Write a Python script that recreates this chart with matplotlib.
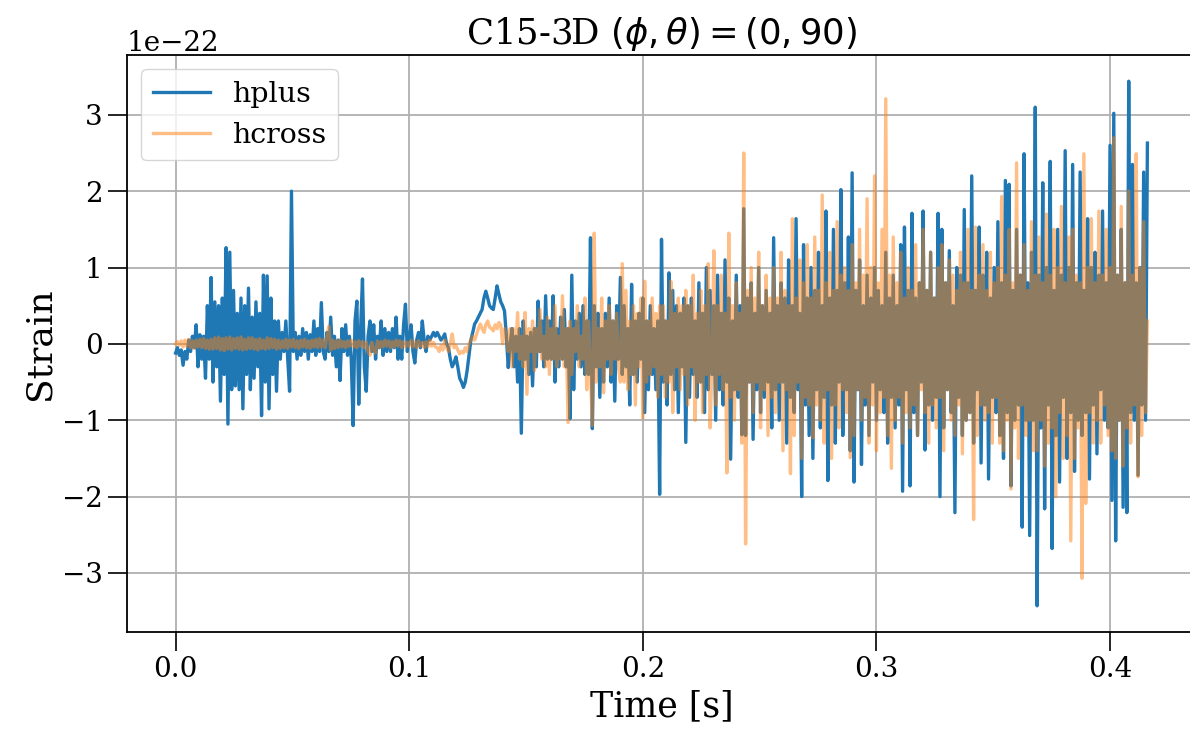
import numpy as np
import matplotlib
matplotlib.use("Agg")
import matplotlib.pyplot as plt

# sample spacing of the plotted waveform, seconds
dt = 0.0008

# strain values in units of 1e-22 (one row = 0.016 s)
hplus = [
    -0.12, -0.05, -0.15, -0.08, -0.28, -0.10, -0.20, 0.05, -0.10, 0.10, -0.05, 0.25, -0.30, 0.12, -0.20, 0.10, -0.45, 0.50, -0.20, 0.87,
    -0.50, 0.55, -0.30, 0.50, -0.75, 0.60, -0.40, 1.26, -1.05, 1.20, -0.60, 0.70, -0.55, 0.40, -0.60, 0.60, -0.85, 0.50, -0.40, 0.73,
    -0.60, 0.35, -0.45, 0.55, -0.30, 0.40, -0.94, 0.90, -0.50, 0.89, -0.85, 0.60, -0.40, 0.30, -0.62, 0.30, -0.20, 0.15, -0.10, 0.30,
    -0.20, -0.62, 2.00, -0.10, 0.15, -0.20, 0.10, -0.15, 0.20, -0.10, 0.15, -0.20, 0.12, -0.10, 0.30, -0.15, 0.20, -0.10, 0.54, -0.10,
    -0.20, 0.15, -0.10, 0.35, -0.15, 0.10, -0.30, 0.05, -0.48, 0.20, -0.10, 0.25, -0.15, 0.10, -0.20, -1.07, 0.30, 0.56, -0.79, 0.20,
    0.85, -0.30, -0.62, 0.10, 0.30, -0.10, 0.25, -0.20, 0.10, -0.05, 0.30, -0.15, 0.20, -0.10, 0.15, -0.10, 0.20, -0.05, 0.35, -0.20,
    0.10, -0.20, 0.25, 0.52, -0.10, 0.10, 0.25, -0.10, -0.25, 0.05, 0.15, -0.05, 0.30, 0.05, -0.10, 0.10, 0.05, 0.10, 0.15, 0.10,
    0.15, 0.10, 0.05, 0.08, 0.13, 0.00, -0.05, -0.20, -0.30, -0.25, -0.17, -0.30, -0.45, -0.50, -0.57, -0.50, -0.35, -0.15, 0.05, 0.15,
    0.26, 0.30, 0.35, 0.40, 0.45, 0.60, 0.69, 0.60, 0.50, 0.47, 0.45, 0.60, 0.76, 0.65, 0.55, 0.50, 0.43, 0.10, -0.31, 0.00,
    0.20, -0.30, 0.10, -0.50, 0.20, -1.17, 0.30, -0.20, 0.10, -0.40, 0.15, -0.55, 0.20, -0.30, 0.56, -0.10, 0.30, -0.30, 0.63, -0.20,
    0.30, -0.20, 0.63, -0.50, 0.20, -0.30, 0.35, -0.20, 0.45, -0.30, 0.20, -0.98, 0.90, -0.60, 0.30, -0.20, 0.40, -0.30, 0.50, -0.40,
    0.30, -0.40, 1.39, -1.11, 0.50, -0.30, 0.40, -0.70, 0.20, -0.50, 0.40, -0.30, 0.60, -0.50, 0.30, -0.75, 0.50, -0.20, 0.87, -0.40,
    0.50, -0.30, 0.20, -0.80, 0.78, -0.40, 0.30, -0.50, 0.40, -0.20, 0.60, -0.90, 0.30, -0.60, 0.50, -0.40, 0.20, -0.60, 0.30, -1.97,
    1.37, -0.50, 0.30, -0.80, 0.93, -0.40, 0.70, -0.60, 0.50, -0.90, 0.40, -0.30, 0.60, -1.29, 0.50, -0.70, 0.60, -0.40, 0.30, -0.70,
    0.80, -0.50, 0.40, -0.90, 1.00, -0.60, 0.70, -0.40, 0.50, -1.00, 0.90, -0.60, 0.40, -0.80, 1.10, -0.50, 0.60, -1.51, 0.30, -0.60,
    0.90, -0.70, 0.50, -1.19, 1.77, -1.20, 0.60, -0.50, 0.80, -1.25, 0.40, -0.60, 1.00, -0.90, 0.50, -0.70, 0.70, -0.50, 0.40, -1.10,
    1.39, -0.60, 0.50, -1.00, 0.80, -0.50, 0.60, -1.30, 1.10, -0.70, 0.50, -0.90, 1.64, -0.60, 0.40, -2.00, 1.30, -0.80, 0.60, -1.20,
    1.00, -1.50, 0.70, -0.60, 1.20, -1.10, 0.50, -0.70, 1.74, -1.79, 0.60, -0.80, 1.50, -1.30, 0.70, -0.50, 2.02, -1.20, 0.80, -0.60,
    1.40, -1.40, 2.24, -1.81, 0.70, -0.60, 1.10, -1.58, 0.50, -0.80, 0.90, -1.20, 0.60, -0.50, 1.00, -1.00, 0.70, -0.60, 0.50, -0.90,
    1.20, -1.30, 0.60, -0.70, 0.90, -1.10, 0.50, -0.80, 1.30, -1.93, 1.53, -0.60, 0.70, -1.86, 1.71, -0.90, 0.60, -1.20, 0.80, -0.50,
    1.74, -1.39, 0.70, -0.80, 1.20, -1.00, 0.60, -0.70, 1.71, -2.00, 1.50, -1.10, 0.80, -0.60, 1.22, -0.90, 0.50, -2.21, 1.00, -0.70,
    0.90, -1.20, 1.76, -1.00, 0.80, -0.90, 2.20, -1.30, 0.70, -0.60, 1.53, -1.56, 0.90, -0.80, 1.20, -1.77, 0.60, -0.70, 1.00, -0.90,
    1.60, -1.20, 0.80, -1.50, 2.14, -0.90, 2.09, -1.86, 0.70, -1.00, 1.50, -0.80, 0.90, -2.40, 2.49, -1.00, 0.80, -2.51, 1.20, -1.00,
    3.10, -3.43, 0.90, -1.10, 2.11, -2.16, 1.00, -0.80, 2.39, -2.68, 0.70, -1.20, 1.50, -1.81, 0.90, -0.70, 2.53, -1.50, 1.00, -0.90,
    2.35, -1.67, 0.80, -1.00, 2.25, -1.20, 0.70, -0.90, 1.64, -1.77, 1.00, -0.80, 1.20, -1.44, 0.90, -0.60, 1.74, -1.00, 0.80, -1.10,
    2.60, -2.05, 3.02, -2.58, 0.90, -1.00, 1.50, -2.14, 0.80, -2.21, 3.44, -0.90, 2.35, -1.00, 0.80, -1.72, 1.00, -0.80, 2.25, -1.00,
    2.63,
]

hcross = [
    0.00, 0.03, -0.02, 0.04, -0.04, 0.05, -0.03, 0.06, -0.05, 0.04, -0.06, 0.05, -0.04, 0.06, -0.05, 0.07, -0.06, 0.05, -0.07, 0.06,
    -0.07, 0.08, -0.06, 0.09, -0.08, 0.07, -0.09, 0.08, -0.07, 0.09, -0.08, 0.07, -0.06, 0.08, -0.07, 0.09, -0.08, 0.06, -0.07, 0.08,
    -0.06, 0.08, -0.07, 0.06, -0.08, 0.07, -0.06, 0.05, -0.07, 0.08, -0.06, 0.07, -0.05, 0.06, -0.07, 0.05, -0.06, 0.04, -0.05, 0.06,
    -0.06, 0.05, -0.04, 0.06, -0.05, 0.04, -0.06, 0.05, -0.04, 0.06, -0.05, 0.04, -0.06, 0.05, -0.04, 0.06, -0.05, 0.07, -0.04, 0.05,
    -0.05, 0.10, 0.23, -0.08, 0.05, -0.06, 0.04, -0.05, 0.05, -0.04, 0.03, -0.05, 0.04, -0.03, 0.05, -0.04, 0.03, -0.05, 0.04, -0.03,
    0.03, -0.05, 0.02, -0.10, -0.15, 0.02, -0.08, -0.12, 0.04, -0.05, 0.03, -0.04, 0.05, -0.03, 0.04, -0.05, 0.03, -0.04, 0.05, -0.03,
    0.04, -0.05, 0.03, -0.04, 0.02, -0.03, 0.05, -0.04, 0.03, -0.05, 0.04, -0.03, 0.02, -0.05, 0.03, -0.04, 0.05, -0.03, 0.02, -0.04,
    -0.05, -0.10, -0.02, -0.08, 0.05, -0.05, -0.10, 0.00, 0.13, -0.05, -0.02, -0.08, -0.13, -0.10, -0.12, -0.05, -0.10, 0.00, 0.05, 0.10,
    0.05, 0.12, 0.20, 0.26, 0.20, 0.15, 0.25, 0.30, 0.22, 0.20, 0.17, 0.25, 0.20, 0.28, 0.25, 0.00, 0.20, 0.10, -0.10, 0.20,
    -0.30, 0.20, -0.10, 0.41, -0.20, 0.10, -0.30, 0.41, -0.66, 0.20, -0.10, 0.30, -0.35, 0.20, -0.10, 0.45, -0.20, 0.10, -0.30, 0.35,
    -0.40, 0.20, -0.20, 0.50, -0.30, 0.10, -0.20, 0.63, -0.30, 0.20, -1.03, 0.30, -0.40, 0.20, -0.10, 0.50, -0.30, 0.10, -0.20, 0.60,
    -0.60, 0.30, -0.40, -1.07, 1.45, -0.50, 0.20, -0.30, 0.60, -0.64, 0.30, -0.20, 0.50, -0.40, 0.30, -0.20, 0.40, -0.30, -0.50, 1.05,
    -0.50, 0.70, -0.60, 0.30, -0.40, 0.50, -0.80, 0.40, -0.30, 0.60, -0.97, 0.82, -0.50, 0.30, -0.40, 0.60, -0.30, 0.40, -0.70, 0.50,
    -0.40, 0.50, -0.70, 0.30, -0.50, 0.82, -0.90, 0.40, -0.30, 0.60, -0.60, 0.50, -0.40, 0.70, -0.80, 0.50, -0.30, 0.90, -1.00, 0.40,
    -0.50, 0.70, -0.90, 0.50, -0.40, 1.05, -1.10, -0.30, 1.22, -0.80, 0.50, -0.40, 0.90, -0.60, 0.40, -1.69, 1.45, -0.70, 0.50, -1.00,
    0.80, -0.60, 0.40, -1.30, 2.50, -2.62, 0.70, -0.50, 1.00, -0.90, 0.60, -0.50, 1.20, -1.10, 0.50, -0.60, 0.90, -1.20, 0.60, -0.70,
    1.00, -0.90, 0.60, -0.50, 1.20, -1.40, 0.70, -0.60, 0.50, -1.70, 1.64, -1.20, 0.60, -0.50, 1.10, -1.50, 0.80, -0.70, 1.30, -0.80,
    0.60, -1.23, 1.40, -0.80, 0.70, -1.00, 1.95, -1.30, 0.80, -0.60, 1.20, -1.50, 0.70, -0.80, 1.60, -1.10, 0.90, -0.60, 1.00, -0.90,
    0.70, -1.49, 1.30, -1.20, 0.80, -0.60, 1.50, -1.00, 0.90, -0.70, 1.90, -1.30, 1.00, -0.80, 2.20, -1.40, 0.80, -0.90, 1.50, -0.70,
    3.21, -1.20, 0.90, -1.63, 1.40, -1.00, 0.80, -0.70, 1.20, -1.30, 0.60, -0.90, 1.00, -1.10, 0.70, -0.80, 1.30, -1.20, 0.80, -0.60,
    1.50, -0.90, 0.70, -1.30, 1.20, -0.80, 0.60, -1.10, 1.00, -0.70, 1.30, -1.40, 0.80, -0.60, 1.10, -1.00, 0.90, -1.20, 0.70, -0.80,
    1.20, -1.44, 0.80, -1.00, 1.50, -0.90, 0.70, -2.30, 1.53, -1.20, 0.90, -0.80, 1.30, -1.00, 0.70, -0.90, 1.20, -1.30, 0.80, -0.70,
    1.00, -1.30, 1.93, -1.40, 0.90, -1.00, 1.50, -1.90, 0.80, -1.10, 2.37, -1.50, 0.90, -0.80, 1.30, -1.20, 0.70, -1.00, 1.60, -1.40,
    0.90, -1.40, 1.40, -1.00, 0.80, -1.60, 1.70, -1.30, 0.90, -1.10, 1.50, -2.00, 1.00, -0.90, 1.80, -1.50, 0.80, -1.20, 1.40, -2.58,
    1.50, -1.50, 0.90, -1.10, 0.80, -3.07, 2.49, -2.09, 1.00, -0.90, 1.64, -1.30, 0.80, -1.00, 1.74, -1.30, 0.90, -0.80, 1.50, -1.20,
    1.00, -1.40, 2.70, -1.50, 0.90, -1.00, 1.80, -1.60, 0.80, -1.10, 2.00, -1.30, 0.90, -0.80, 2.49, -1.74, 1.00, -1.20, 1.60, -0.90,
    0.30,
]

scale = 1e-22

plt.rcParams['font.family'] = ['DejaVu Serif']

t = np.arange(len(hplus)) * dt

fig = plt.figure(figsize=(11.9, 7.34), dpi=100)
ax = fig.add_axes([127 / 1190, 102 / 734, 1069 / 1190, 577 / 734])

ax.plot(t, np.array(hplus) * scale, color='#1f77b4', lw=2.4, label='hplus')
ax.plot(t, np.array(hcross) * scale, color='#ff7f0e', lw=2.4, alpha=0.5, label='hcross')

ax.set_title(r'C15-3D $(\phi, \theta) = (0, 90)$', fontsize=25.5, pad=8)
ax.set_xlabel('Time [s]', fontsize=25)
ax.set_ylabel('Strain', fontsize=26)
ax.tick_params(axis='both', labelsize=20, length=14, width=1.2, direction='out')
ax.yaxis.get_offset_text().set_fontsize(20)
ax.grid(True, color='#b0b0b0', lw=1.3)
for s in ax.spines.values():
    s.set_linewidth(1.3)
ax.legend(loc='upper left', fontsize=20.5)

fig.savefig('out.png', dpi=100)
